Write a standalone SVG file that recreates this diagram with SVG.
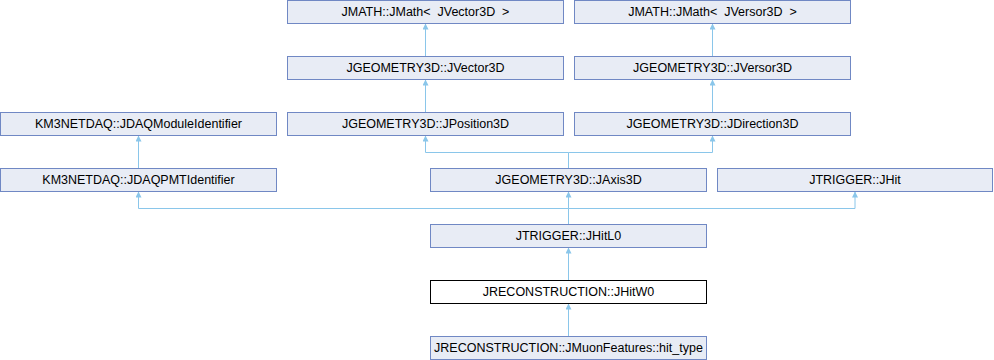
<svg xmlns="http://www.w3.org/2000/svg" width="994" height="360" viewBox="0 0 994 360">
<style>
.box{fill:#e8ecf5;stroke:#7088c4;stroke-width:1}
.cur{fill:#ffffff;stroke:#000000;stroke-width:1}
.lbl{font-family:"Liberation Sans",Arial,sans-serif;font-size:12.5px;fill:#000;text-anchor:middle}
.edge{fill:none;stroke:#8ac6ea;stroke-width:1}
</style>
<defs>
<marker id="arr" viewBox="-6 -3 6 6" refX="0" refY="0" markerWidth="6" markerHeight="6" markerUnits="userSpaceOnUse" orient="auto">
<path d="M0,0 L-6,-3 L-6,3 Z" fill="#8ac6ea"/>
</marker>
</defs>
<g id="connectors">
<path class="edge" d="M425.5,56.5 V23.5" marker-end="url(#arr)"/>
<path class="edge" d="M712.5,56.5 V23.5" marker-end="url(#arr)"/>
<path class="edge" d="M425.5,112.5 V79.5" marker-end="url(#arr)"/>
<path class="edge" d="M712.5,112.5 V79.5" marker-end="url(#arr)"/>
<path class="edge" d="M138.5,168.5 V135.5" marker-end="url(#arr)"/>
<path class="edge" d="M568.5,168.5 V152.5 H425.5 V135.5" marker-end="url(#arr)"/>
<path class="edge" d="M568.5,152.5 H712.5 V135.5" marker-end="url(#arr)"/>
<path class="edge" d="M568.5,224.5 V208.5 H138.5 V191.5" marker-end="url(#arr)"/>
<path class="edge" d="M568.5,208.5 V191.5" marker-end="url(#arr)"/>
<path class="edge" d="M568.5,208.5 H855 V191.5" marker-end="url(#arr)"/>
<path class="edge" d="M568.5,280.5 V247.5" marker-end="url(#arr)"/>
<path class="edge" d="M568.5,336.5 V303.5" marker-end="url(#arr)"/>
</g>
<g id="n_jmath_vector"><rect class="box" x="287.5" y="0.5" width="276" height="23"/><text class="lbl" x="425.5" y="16" xml:space="preserve">JMATH::JMath&lt;  JVector3D  &gt;</text></g>
<g id="n_jmath_versor"><rect class="box" x="574.5" y="0.5" width="276" height="23"/><text class="lbl" x="712.5" y="16" xml:space="preserve">JMATH::JMath&lt;  JVersor3D  &gt;</text></g>
<g id="n_jvector3d"><rect class="box" x="287.5" y="56.5" width="276" height="23"/><text class="lbl" x="425.5" y="72">JGEOMETRY3D::JVector3D</text></g>
<g id="n_jversor3d"><rect class="box" x="574.5" y="56.5" width="276" height="23"/><text class="lbl" x="712.5" y="72">JGEOMETRY3D::JVersor3D</text></g>
<g id="n_module"><rect class="box" x="0.5" y="112.5" width="276" height="23"/><text class="lbl" x="138.5" y="128">KM3NETDAQ::JDAQModuleIdentifier</text></g>
<g id="n_jposition3d"><rect class="box" x="287.5" y="112.5" width="276" height="23"/><text class="lbl" x="425.5" y="128">JGEOMETRY3D::JPosition3D</text></g>
<g id="n_jdirection3d"><rect class="box" x="574.5" y="112.5" width="276" height="23"/><text class="lbl" x="712.5" y="128">JGEOMETRY3D::JDirection3D</text></g>
<g id="n_pmt"><rect class="box" x="0.5" y="168.5" width="276" height="23"/><text class="lbl" x="138.5" y="184">KM3NETDAQ::JDAQPMTIdentifier</text></g>
<g id="n_jaxis3d"><rect class="box" x="430.5" y="168.5" width="276" height="23"/><text class="lbl" x="568.5" y="184">JGEOMETRY3D::JAxis3D</text></g>
<g id="n_jhit"><rect class="box" x="717.5" y="168.5" width="275" height="23"/><text class="lbl" x="855" y="184">JTRIGGER::JHit</text></g>
<g id="n_jhitl0"><rect class="box" x="430.5" y="224.5" width="276" height="23"/><text class="lbl" x="568.5" y="240">JTRIGGER::JHitL0</text></g>
<g id="n_jhitw0"><rect class="cur" x="430.5" y="280.5" width="276" height="23"/><text class="lbl" x="568.5" y="296">JRECONSTRUCTION::JHitW0</text></g>
<g id="n_hit_type"><rect class="box" x="430.5" y="336.5" width="276" height="23"/><text class="lbl" x="568.5" y="352">JRECONSTRUCTION::JMuonFeatures::hit_type</text></g>
</svg>
